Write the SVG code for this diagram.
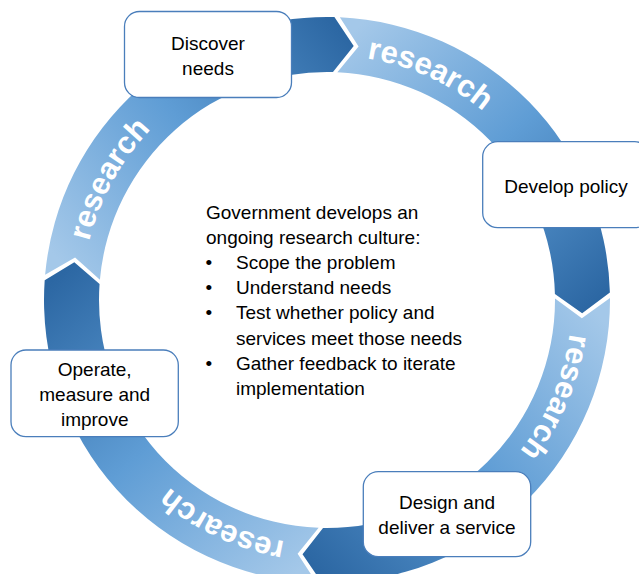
<svg xmlns="http://www.w3.org/2000/svg" width="639" height="574" viewBox="0 0 639 574">
  <defs>
    <style>
      .seg { stroke: none; }
      .lbl { font-family: "Liberation Sans", Arial, sans-serif; font-weight: bold; font-size: 31px; fill: #ffffff; }
      .node rect { fill: #ffffff; stroke: #4a7ebb; stroke-width: 1.3; }
      .node text { font-family: "Liberation Sans", Arial, sans-serif; font-size: 19px; fill: #000000; text-anchor: middle; }
      .summary text { font-family: "Liberation Sans", Arial, sans-serif; font-size: 19px; fill: #000000; }
    </style>
    <!-- shared light-to-dark ramp, tail to head -->
    <linearGradient id="ramp">
      <stop offset="0" stop-color="#a4c8e9"/>
      <stop offset="0.5" stop-color="#5f9dd5"/>
      <stop offset="1" stop-color="#2c67a3"/>
    </linearGradient>
    <linearGradient id="gA" href="#ramp" gradientUnits="userSpaceOnUse" x1="72.5" y1="277.3" x2="353.7" y2="45.9"/>
    <linearGradient id="gB" href="#ramp" gradientUnits="userSpaceOnUse" x1="338.6" y1="44.8" x2="582.2" y2="313.4"/>
    <linearGradient id="gC" href="#ramp" gradientUnits="userSpaceOnUse" x1="582.5" y1="298.2" x2="302.5" y2="554.3"/>
    <linearGradient id="gD" href="#ramp" gradientUnits="userSpaceOnUse" x1="317.6" y1="555.3" x2="74.3" y2="262.2"/>
    <!-- clockwise baseline arcs (r=245) for the ring labels -->
    <path id="arcTop" d="M241.20,70.52 A245,245 0 0 1 556.48,214.20"/>
    <path id="arcRight" d="M554.16,208.22 A245,245 0 0 1 418.78,527.16"/>
    <path id="arcBottom" d="M410.79,530.22 A245,245 0 0 1 96.78,383.79"/>
    <path id="arcLeft" d="M91.49,367.53 A245,245 0 0 1 259.47,64.49"/>
  </defs>

  <!-- ring of four chevron-ended arc arrows, centre (327,300) -->
  <g id="connectors">
    <path class="seg" fill="url(#gA)" d="M45.12,274.84 A283,283 0 0 1 334.41,17.10 L353.71,45.90 L332.97,72.08 A228,228 0 0 0 99.90,279.73 L75.08,257.39 Z"/>
    <path class="seg" fill="url(#gB)" d="M339.84,17.29 A283,283 0 0 1 609.90,292.59 L582.15,313.37 L554.92,294.03 A228,228 0 0 0 337.34,72.23 L358.58,46.46 Z"/>
    <path class="seg" fill="url(#gC)" d="M609.99,298.02 A283,283 0 0 1 322.06,582.96 L302.51,554.32 L323.02,527.97 A228,228 0 0 0 555.00,298.41 L581.85,318.27 Z"/>
    <path class="seg" fill="url(#gD)" d="M316.63,582.81 A283,283 0 0 1 44.69,280.26 L74.31,262.23 L99.56,284.10 A228,228 0 0 0 318.65,527.85 L297.63,553.81 Z"/>
    <text class="lbl"><textPath href="#arcTop" startOffset="50%" text-anchor="middle">research</textPath></text>
    <text class="lbl"><textPath href="#arcRight" startOffset="50%" text-anchor="middle">research</textPath></text>
    <text class="lbl"><textPath href="#arcBottom" startOffset="50%" text-anchor="middle">research</textPath></text>
    <text class="lbl"><textPath href="#arcLeft" startOffset="50%" text-anchor="middle">research</textPath></text>
  </g>

  <g id="discover-needs" class="node">
    <rect x="124.5" y="11.5" width="167" height="86" rx="15"/>
    <text x="208" y="49.5">Discover</text>
    <text x="208" y="74.5">needs</text>
  </g>

  <g id="develop-policy" class="node">
    <rect x="482.7" y="141.7" width="167" height="86" rx="15"/>
    <text x="566" y="192.5">Develop policy</text>
  </g>

  <g id="design-deliver" class="node">
    <rect x="363.3" y="471.7" width="167.4" height="85" rx="15"/>
    <text x="447" y="509">Design and</text>
    <text x="447" y="534">deliver a service</text>
  </g>

  <g id="operate-measure" class="node">
    <rect x="11" y="350" width="167.3" height="86.7" rx="15"/>
    <text x="94.7" y="376">Operate,</text>
    <text x="94.7" y="401">measure and</text>
    <text x="94.7" y="426">improve</text>
  </g>

  <g id="summary" class="summary">
    <text x="206" y="219">Government develops an</text>
    <text x="206" y="244.1">ongoing research culture:</text>
    <text x="205.5" y="269.2">•</text>
    <text x="236" y="269.2">Scope the problem</text>
    <text x="205.5" y="294.3">•</text>
    <text x="236" y="294.3">Understand needs</text>
    <text x="205.5" y="319.4">•</text>
    <text x="236" y="319.4">Test whether policy and</text>
    <text x="236" y="344.5">services meet those needs</text>
    <text x="205.5" y="369.6">•</text>
    <text x="236" y="369.6">Gather feedback to iterate</text>
    <text x="236" y="394.7">implementation</text>
  </g>
</svg>
